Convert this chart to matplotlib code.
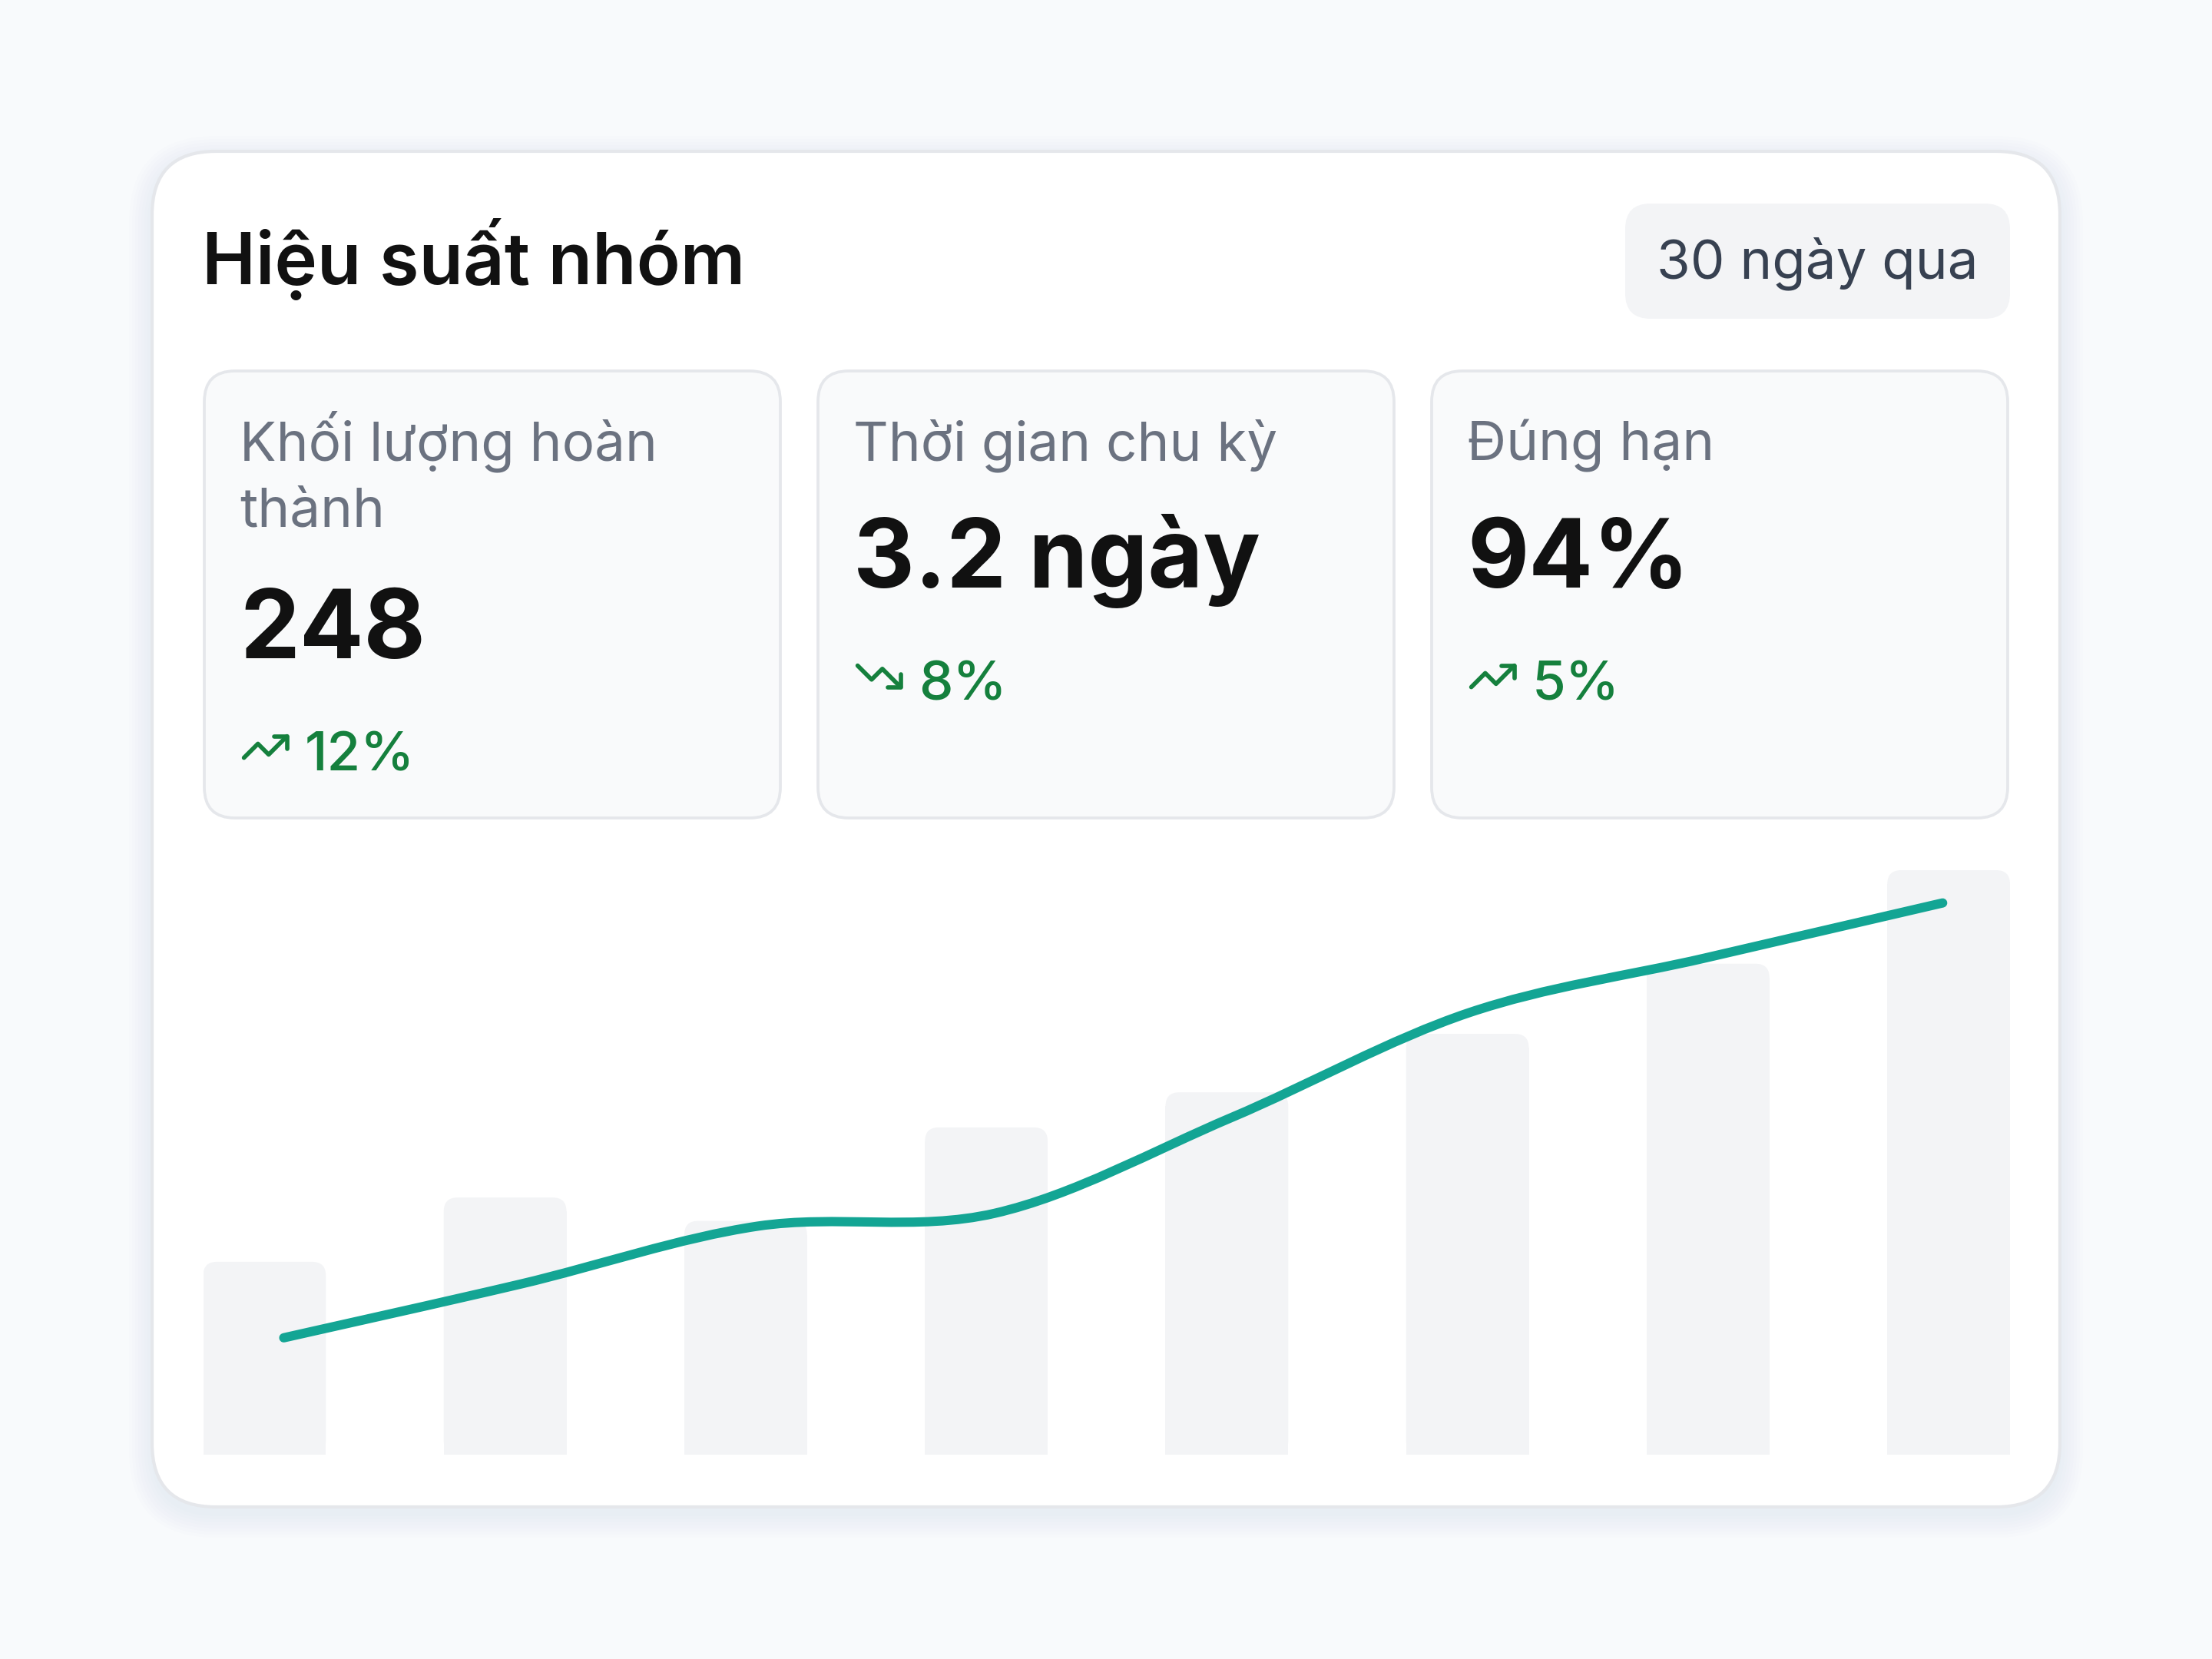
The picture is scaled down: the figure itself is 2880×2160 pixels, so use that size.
import numpy as np
import matplotlib
matplotlib.use("Agg")
import matplotlib.pyplot as plt
from matplotlib.patches import FancyBboxPatch
from matplotlib.path import Path
from matplotlib.patches import PathPatch

plt.rcParams["font.family"] = ["Inter", "DejaVu Sans"]

# data
title = "Hiệu suất nhóm"
period = "30 ngày qua"
kpi_labels = [["Khối lượng hoàn", "thành"], ["Thời gian chu kỳ"], ["Đúng hạn"]]
kpi_values = ["248", "3.2 ngày", "94%"]
kpi_changes = ["12%", "8%", "5%"]
kpi_trend = ["up", "down", "up"]
bar_values = [33, 44, 40, 56, 62, 72, 84, 100]
line_values = [20, 29.2, 39.1, 41.3, 57.7, 75.6, 85, 94.4]

W, H = 2880, 2160
fig = plt.figure(figsize=(9.6, 7.2), dpi=300)
fig.patch.set_facecolor("#f8fafc")

# full-figure axes in pixel units for the card layout
bg = fig.add_axes([0, 0, 1, 1])
bg.set_xlim(0, W)
bg.set_ylim(H, 0)
bg.axis("off")


def rbox(ax, x0, y0, x1, y1, r, fc, ec="none", lw=0, z=1, alpha=1.0):
    p = FancyBboxPatch((x0, y0), x1 - x0, y1 - y0,
                       boxstyle=f"round,pad=0,rounding_size={r}",
                       fc=fc, ec=ec, lw=lw, zorder=z, alpha=alpha)
    ax.add_patch(p)
    return p


# card shadow
for i in range(8):
    g = 2 + i * 4
    rbox(bg, 198 - g, 197 - g + 10, 2682 + g, 1962 + g + 10, 83 + g,
         "#64748b", z=0.5, alpha=0.009)
rbox(bg, 198, 197, 2682, 1962, 83, "white", "#e5e7eb", lw=1.0, z=1)

# header
bg.text(263, 370, title, fontsize=22.5, fontweight="semibold", color="#111111",
        va="baseline", ha="left", zorder=3)
rbox(bg, 2116, 265, 2617, 415, 33, "#f3f4f6", z=2)
bg.text(2366, 362, period, fontsize=17, color="#374151",
        va="baseline", ha="center", zorder=3)

# kpi cards
card_x = [266, 1065, 1864]
card_w = 750
label_base = 599
label_step = 87
value_base = [857, 765, 765]
change_base = [1004, 912, 912]

up_line = [(2, 17), (8.5, 10.5), (13.5, 15.5), (22, 7)]
up_head = [(16, 7), (22, 7), (22, 13)]
down_line = [(2, 7), (8.5, 13.5), (13.5, 8.5), (22, 17)]
down_head = [(16, 17), (22, 17), (22, 11)]
green = "#15803d"

for i in range(3):
    x0 = card_x[i]
    rbox(bg, x0, 483, x0 + card_w, 1065, 40, "#f9fafb", "#e5e7eb", lw=0.9, z=2)
    for j, line in enumerate(kpi_labels[i]):
        bg.text(x0 + 46, label_base + j * label_step, line, fontsize=17,
                color="#6b7280", va="baseline", ha="left", zorder=3)
    bg.text(x0 + 46, value_base[i], kpi_values[i], fontsize=29.7, fontweight="bold",
            color="#111111", va="baseline", ha="left", zorder=3)
    ox, oy = x0 + 46, change_base[i] - 65
    s = 2.8
    pts = (up_line, up_head) if kpi_trend[i] == "up" else (down_line, down_head)
    for seg in pts:
        xs = [ox + p[0] * s for p in seg]
        ys = [oy + p[1] * s for p in seg]
        bg.plot(xs, ys, color=green, lw=1.35, solid_capstyle="round",
                solid_joinstyle="round", zorder=3)
    bg.text(x0 + 131, change_base[i], kpi_changes[i], fontsize=17, fontweight="medium",
            color=green, va="baseline", ha="left", zorder=3)

# chart axes: bars + smooth line
left, right = 264.5, 2617
bottom, top = 1894, 1133
ax = fig.add_axes([left / W, 1 - bottom / H, (right - left) / W, (bottom - top) / H])
bw = 0.51
ax.set_xlim(-bw / 2, 7 + bw / 2)
ax.set_ylim(0, 100)
ax.axis("off")
ax.patch.set_alpha(0)

x = np.arange(len(bar_values))
px_x = (right - left) / (7 + bw)
px_y = (bottom - top) / 100
r_px = 18
rx, ry = r_px / px_x, r_px / px_y
ax.bar(x, [v - ry for v in bar_values], width=bw, color="#f3f4f6", zorder=1)
for xi, v in zip(x, bar_values):
    ax.add_patch(FancyBboxPatch((xi - bw / 2, 0), bw, v,
                                boxstyle=f"round,pad=0,rounding_size={rx}",
                                mutation_aspect=ry / rx,
                                fc="#f3f4f6", ec="none", zorder=1))

# catmull-rom curve through the line points
lx = np.linspace(0.08, 6.975, len(line_values))
ly = np.array(line_values)
P = np.column_stack([lx, ly])
verts = [tuple(P[0])]
codes = [Path.MOVETO]
n = len(P)
for k in range(n - 1):
    p0 = P[k - 1] if k > 0 else P[k]
    p1, p2 = P[k], P[k + 1]
    p3 = P[k + 2] if k + 2 < n else P[k + 1]
    c1 = p1 + (p2 - p0) / 6
    c2 = p2 - (p3 - p1) / 6
    verts += [tuple(c1), tuple(c2), tuple(p2)]
    codes += [Path.CURVE4] * 3
ax.add_patch(PathPatch(Path(verts, codes), fc="none", ec="#13a594", lw=2.9,
                       capstyle="round", joinstyle="round", zorder=3))

fig.savefig("out.png", dpi=300, facecolor=fig.get_facecolor())
